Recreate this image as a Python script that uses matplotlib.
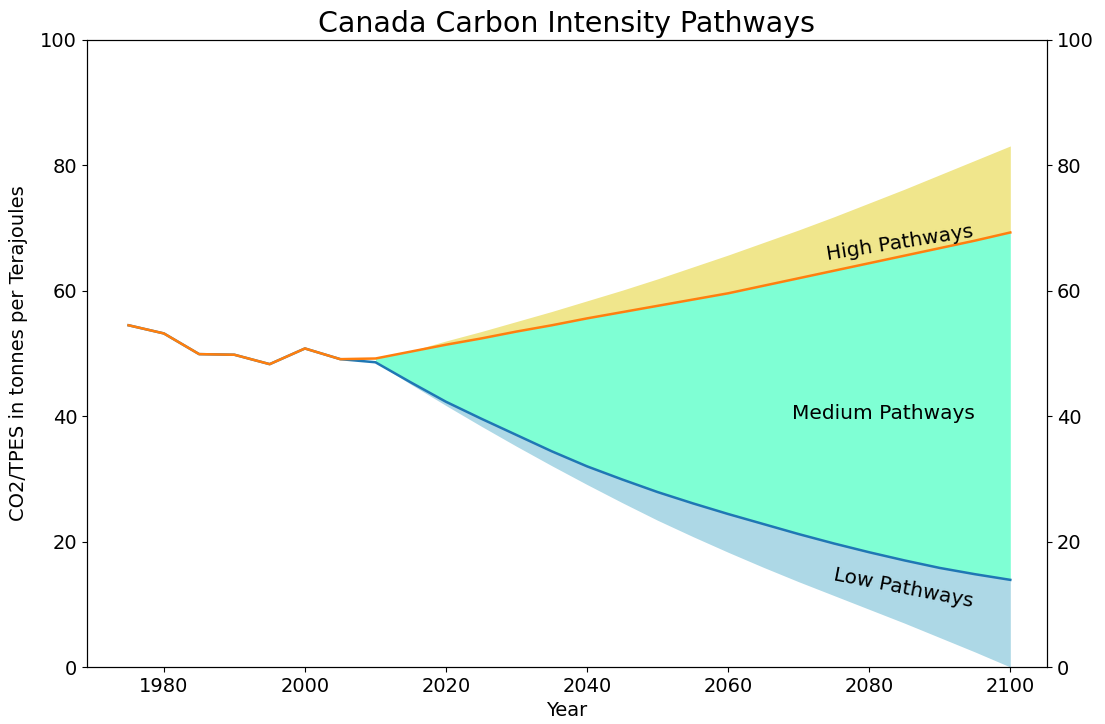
import numpy as np
import matplotlib.pyplot as plt

# Historical carbon intensity (t CO2 / TJ of TPES)
hist_years = [1975, 1980, 1985, 1990, 1995, 2000, 2005, 2010]
hist_values = [54.5, 53.2, 49.9, 49.8, 48.3, 50.8, 49.1, 49.2]

# Projection years
proj_years = [2010, 2015, 2020, 2025, 2030, 2035, 2040, 2045, 2050, 2055,
              2060, 2065, 2070, 2075, 2080, 2085, 2090, 2095, 2100]

# Upper edge of the high band
high_upper = [49.2, 50.4, 52.0, 53.5, 55.1, 56.7, 58.4, 60.1, 61.9, 63.8,
              65.7, 67.7, 69.7, 71.8, 74.0, 76.2, 78.5, 80.8, 83.1]
# Boundary between high and medium
high_line = [49.2, 50.3, 51.4, 52.4, 53.5, 54.5, 55.6, 56.6, 57.6, 58.6,
             59.6, 60.8, 62.0, 63.2, 64.4, 65.6, 66.8, 68.0, 69.3]
# Boundary between medium and low
low_line = [48.6, 45.4, 42.3, 39.6, 37.0, 34.4, 32.0, 29.9, 27.9, 26.1,
            24.4, 22.8, 21.2, 19.7, 18.3, 17.0, 15.8, 14.8, 13.9]
# Lower edge of the low band
low_lower = [48.6, 45.1, 41.7, 38.4, 35.2, 32.1, 29.1, 26.2, 23.4, 20.8,
             18.3, 15.9, 13.6, 11.4, 9.2, 7.0, 4.7, 2.4, 0.0]

fig = plt.figure(figsize=(11.05, 7.24), dpi=100)
ax = fig.add_axes([0.0787, 0.0787, 0.8688, 0.8661])

ax.fill_between(proj_years, high_line, high_upper, color='khaki', lw=0)
ax.fill_between(proj_years, low_line, high_line, color='aquamarine', lw=0)
ax.fill_between(proj_years, low_lower, low_line, color='lightblue', lw=0)

ax.plot(hist_years[:-1] + proj_years, hist_values[:-1] + low_line, color='C0', lw=1.8)
ax.plot(hist_years[:-1] + proj_years, hist_values[:-1] + high_line, color='C1', lw=1.8)

ax.text(2084.4, 67.6, 'High Pathways', fontsize=14.5, rotation=9,
        ha='center', va='center')
ax.text(2082.0, 40.4, 'Medium Pathways', fontsize=14.5, ha='center', va='center')
ax.text(2084.8, 12.6, 'Low Pathways', fontsize=14.5, rotation=-11,
        ha='center', va='center')

ax.set_xlim(1969.1, 2105.2)
ax.set_ylim(0, 100)
ax.set_title('Canada Carbon Intensity Pathways', fontsize=20.5)
ax.set_xlabel('Year', fontsize=14)
ax.set_ylabel('CO2/TPES in tonnes per Terajoules', fontsize=14, labelpad=9)
ax.tick_params(labelsize=14)

ax2 = ax.twinx()
ax2.set_ylim(0, 100)
ax2.tick_params(labelsize=14)

fig.savefig('out.png', dpi=100)
